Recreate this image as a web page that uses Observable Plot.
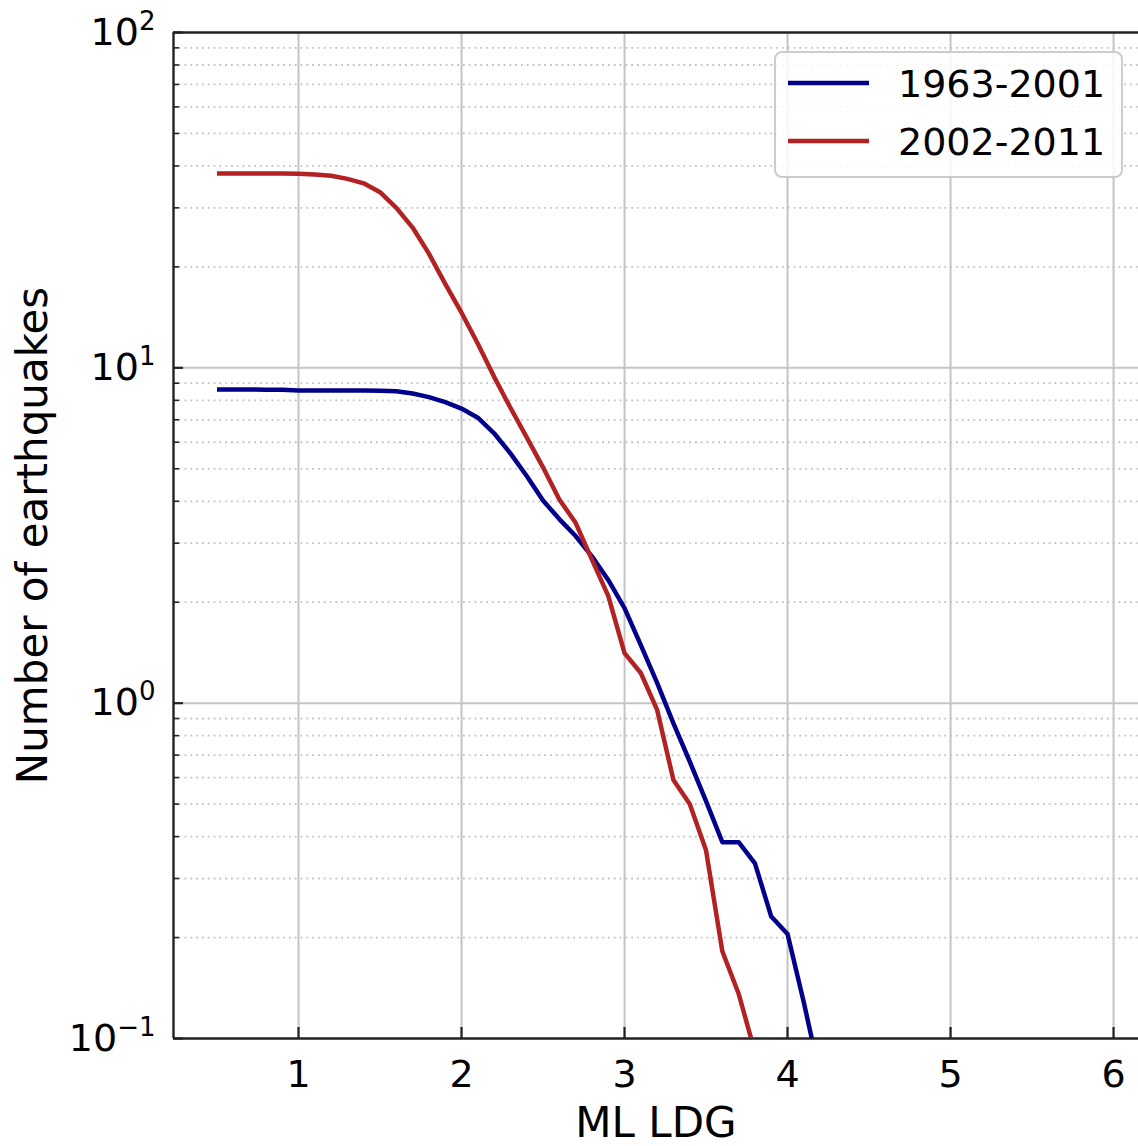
<!DOCTYPE html>
<html>
<head>
<meta charset="utf-8">
<script src="https://cdn.jsdelivr.net/npm/d3@7"></script>
<script src="https://cdn.jsdelivr.net/npm/@observablehq/plot@0.6"></script>
<style>
  html, body { margin: 0; padding: 0; background: #fff; }
  #chart { width: 1138px; height: 1146px; overflow: hidden; }
</style>
</head>
<body>
<div id="chart"></div>
<script>
// ---- Data ----
const magBlue = [0.5,0.6,0.7,0.8,0.9,1.0,1.1,1.2,1.3,1.4,1.5,1.6,1.7,1.8,1.9,2.0,2.1,2.2,2.3,2.4,2.5,2.6,2.7,2.8,2.9,3.0,3.1,3.2,3.3,3.4,3.5,3.6,3.7,3.8,3.9,4.0,4.1,4.2];
const countBlue = [8.62,8.62,8.62,8.60,8.60,8.56,8.56,8.56,8.56,8.56,8.54,8.51,8.38,8.18,7.90,7.56,7.10,6.38,5.56,4.76,4.02,3.54,3.15,2.74,2.33,1.92,1.49,1.15,0.87,0.67,0.51,0.385,0.385,0.333,0.231,0.205,0.128,0.077];
const magRed = [0.5,0.6,0.7,0.8,0.9,1.0,1.1,1.2,1.3,1.4,1.5,1.6,1.7,1.8,1.9,2.0,2.1,2.2,2.3,2.4,2.5,2.6,2.7,2.8,2.9,3.0,3.1,3.2,3.3,3.4,3.5,3.6,3.7,3.8];
const countRed = [38.0,38.0,38.0,38.0,37.95,37.9,37.7,37.4,36.6,35.5,33.4,30.0,26.2,21.9,17.8,14.6,11.8,9.4,7.6,6.2,5.05,4.05,3.45,2.68,2.09,1.41,1.23,0.955,0.59,0.50,0.364,0.182,0.136,0.091];
const seriesNames = ["1963-2001", "2002-2011"];
const seriesColors = ["#00008b", "#b22222"];

const xTicks = [1, 2, 3, 4, 5, 6];
const yMajor = [0.1, 1, 10, 100];
const yExp = ["\u22121", "0", "1", "2"];
const yMinor = [];
for (const dec of [0.1, 1, 10]) for (let k = 2; k <= 9; k++) yMinor.push(+(k * dec).toPrecision(3));
const xLabel = "ML LDG";
const yLabel = "Number of earthquakes";

const xDomain = [0.2331, 6.153];
const yDomain = [0.1, 100];

const rows = [
  ...magBlue.map((m, i) => ({mag: m, n: countBlue[i], s: seriesNames[0]})),
  ...magRed.map((m, i) => ({mag: m, n: countRed[i], s: seriesNames[1]}))
];

const font = "DejaVu Sans";
const gridColor = "#c4c4c4";
const spine = "#222";

const svg = Plot.plot({
  width: 1138,
  height: 1146,
  marginLeft: 173,
  marginRight: 0,
  marginTop: 32,
  marginBottom: 108,
  style: {fontFamily: font, background: "#fff", color: "#000"},
  x: {domain: xDomain},
  y: {type: "log", domain: yDomain},
  color: {domain: seriesNames, range: seriesColors},
  marks: [
    // minor dotted grid
    Plot.ruleY(yMinor, {stroke: "#c2c2c2", strokeWidth: 1.8, strokeDasharray: "1.8,4"}),
    // major grid
    Plot.ruleY([1, 10], {stroke: gridColor, strokeWidth: 2}),
    Plot.ruleX(xTicks, {stroke: gridColor, strokeWidth: 2}),
    // spines
    Plot.ruleX([xDomain[0]], {stroke: spine, strokeWidth: 2.4}),
    Plot.ruleY([yDomain[0], yDomain[1]], {stroke: spine, strokeWidth: 2.4}),
    // inward ticks
    Plot.ruleY(yMajor, {x1: xDomain[0], x2: xDomain[0], insetRight: -10, stroke: spine, strokeWidth: 2.2}),
    Plot.ruleY(yMinor, {x1: xDomain[0], x2: xDomain[0], insetRight: -6, stroke: spine, strokeWidth: 1.6}),
    Plot.ruleX(xTicks, {y1: yDomain[0], y2: yDomain[0], insetTop: -11, stroke: spine, strokeWidth: 2.2}),
    // data
    Plot.line(rows, {x: "mag", y: "n", z: "s", stroke: "s", strokeWidth: 4.5, clip: true, strokeLinejoin: "round", strokeLinecap: "butt"}),
    // axes labels
    Plot.axisX({ticks: xTicks, tickSize: 0, tickPadding: 22, fontSize: 38, tickFormat: d => String(d), label: null}),
    Plot.axisY({ticks: yMajor, tickSize: 0, tickPadding: 18, fontSize: 38, tickFormat: (d, i) => "10^" + yExp[yMajor.indexOf(d)], label: null}),
    Plot.text([xLabel], {frameAnchor: "bottom", dy: 98, lineAnchor: "bottom", textAnchor: "middle", fontSize: 42, text: d => d}),
    Plot.text([yLabel], {frameAnchor: "left", dx: -127, rotate: -90, lineAnchor: "bottom", textAnchor: "middle", fontSize: 42, text: d => d})
  ]
});

// mathtext-like superscripts for y tick labels
d3.select(svg).selectAll('g[aria-label="y-axis tick label"] text').each(function () {
  const s = this.textContent;
  const exp = s.split("^")[1];
  const t = d3.select(this);
  t.text(null);
  t.append("tspan").text("10");
  t.append("tspan").attr("font-size", 26).attr("dy", -15).text(exp);
});

// legend (top-right inside the plot frame)
const lg = d3.select(svg).append("g").attr("font-family", font).attr("text-anchor", "start");
lg.append("rect").attr("x", 775).attr("y", 52).attr("width", 347).attr("height", 125)
  .attr("rx", 7).attr("fill", "#fff").attr("fill-opacity", 0.85)
  .attr("stroke", "#cccccc").attr("stroke-width", 2);
seriesNames.forEach((name, i) => {
  const cy = 83 + i * 58;
  lg.append("line").attr("x1", 788).attr("x2", 869).attr("y1", cy).attr("y2", cy)
    .attr("stroke", seriesColors[i]).attr("stroke-width", 4.5);
  lg.append("text").attr("x", 898).attr("y", cy + 14).attr("font-size", 38)
    .attr("text-anchor", "start").attr("fill", "#000").text(name);
});

document.getElementById("chart").appendChild(svg);
</script>
</body>
</html>
